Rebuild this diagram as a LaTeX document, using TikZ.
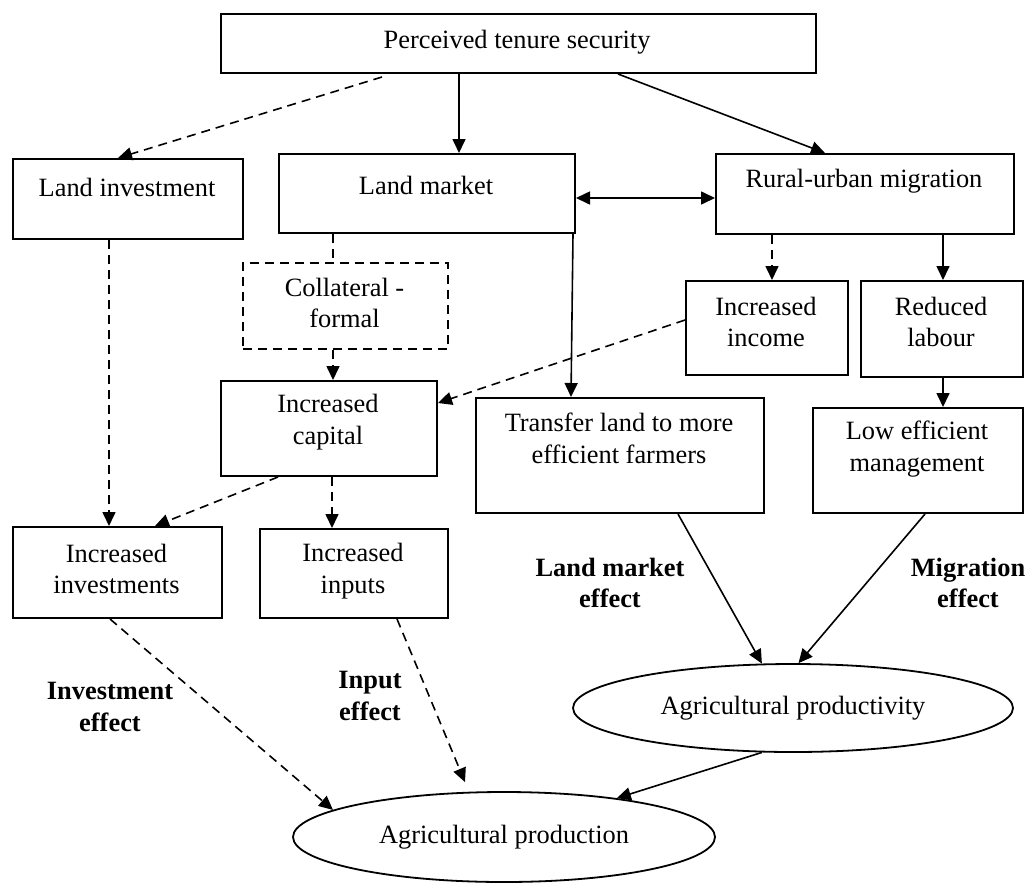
\documentclass[tikz,border=0pt]{standalone}
\usepackage{fontspec}
\setmainfont{Liberation Serif}
\usetikzlibrary{arrows.meta,shapes.geometric}
\begin{document}
\begin{tikzpicture}[x=1pt,y=-1pt,
  box/.style={draw,line width=2pt,rectangle,inner sep=0pt,anchor=north west},
  dbox/.style={box,dash pattern=on 9pt off 6pt},
  ell/.style={draw,ellipse,line width=1.8pt,inner sep=0pt,font=\fontsize{26.4}{31.7}\selectfont},
  txt/.style={inner sep=0pt,align=center,font=\fontsize{26.4}{31.7}\selectfont},
  lbl/.style={inner sep=0pt,align=center,font=\fontsize{26.4}{31.7}\selectfont\bfseries},
  con/.style={line width=1.6pt},
  arr/.style={con,-{Triangle[length=14pt,width=13pt]}},
  darr/.style={arr,dash pattern=on 9pt off 6pt},
  dcon/.style={con,dash pattern=on 9pt off 6pt},
  dbl/.style={con,{Triangle[length=14pt,width=13pt]}-{Triangle[length=14pt,width=13pt]}}
]
\useasboundingbox (0,0) rectangle (1025,884);
% boxes
\node[box,minimum width=595pt,minimum height=59pt] (pts) at (220,13) {};
\node[box,minimum width=230pt,minimum height=80pt] (li) at (12,158) {};
\node[box,minimum width=296pt,minimum height=79pt] (lm) at (278,153) {};
\node[box,minimum width=298pt,minimum height=80pt] (ru) at (715,153) {};
\node[dbox,minimum width=205pt,minimum height=86pt] (col) at (242,262) {};
\node[box,minimum width=162pt,minimum height=94pt] (inc) at (685,280) {};
\node[box,minimum width=162pt,minimum height=96pt] (red) at (860,280) {};
\node[box,minimum width=216pt,minimum height=95pt] (cap) at (220,380) {};
\node[box,minimum width=288pt,minimum height=115pt] (tr) at (475,397) {};
\node[box,minimum width=210pt,minimum height=105pt] (low) at (812,407) {};
\node[box,minimum width=209pt,minimum height=91pt] (iinv) at (12,526) {};
\node[box,minimum width=188pt,minimum height=89pt] (iinp) at (259,528) {};
\node[ell,minimum width=440pt,minimum height=88pt] (aty) at (793,708) {Agricultural productivity};
\node[ell,minimum width=422pt,minimum height=90pt] (apr) at (504,837) {Agricultural production};
% texts
\node[txt] (ptsT) at (517,42) {Perceived tenure security};
\node[txt] (liT) at (127,187) {Land investment};
\node[txt] (lmT) at (426,185) {Land market};
\node[txt] (ruT) at (864,181) {Rural-urban migration};
\node[txt] (colT) at (344.5,303) {Collateral -\\formal};
\node[txt] (incT) at (766,322) {Increased\\income};
\node[txt] (redT) at (941,322) {Reduced\\labour};
\node[txt] (capT) at (328,422) {Increased\\capital};
\node[txt] (trT) at (619,438.5) {Transfer land to more\\efficient farmers};
\node[txt] (lowT) at (917,449) {Low efficient\\management};
\node[txt] (iinvT) at (116.5,569) {Increased\\investments};
\node[txt] (iinpT) at (353,571) {Increased\\inputs};
% effect labels
\node[lbl] (lmE) at (610,583) {Land market\\effect};
\node[lbl] (miE) at (968,583) {Migration\\effect};
\node[lbl] (inE) at (370,696) {Input\\effect};
\node[lbl] (ivE) at (110,707) {Investment\\effect};
% connectors
\draw[darr] ([xshift=162pt,yshift=-3pt]pts.south west) -- ([xshift=106pt]li.north west);
\draw[arr] ([xshift=239pt]pts.south west) -- ([xshift=181pt]lm.north west);
\draw[arr] ([xshift=398pt]pts.south west) -- ([xshift=110pt]ru.north west);
\draw[dbl] ([yshift=-45pt]lm.north east) -- ([yshift=-45pt]ru.north west);
\draw[dcon] ([xshift=55pt]lm.south west) -- ([xshift=91pt]col.north west);
\draw[darr] ([xshift=91pt]col.south west) -- ([xshift=113pt]cap.north west);
\draw[arr] ([xshift=-3pt]lm.south east) -- ([xshift=96pt]tr.north west);
\draw[darr] ([xshift=57pt]ru.south west) -- ([xshift=87pt]inc.north west);
\draw[arr] ([xshift=228pt]ru.south west) -- ([xshift=83pt]red.north west);
\draw[arr] ([xshift=83pt]red.south west) -- ([xshift=131pt]low.north west);
\draw[darr] ([yshift=-40pt]inc.north west) -- ([yshift=-23pt]cap.north east);
\draw[darr] ([xshift=97pt]li.south west) -- ([xshift=97pt]iinv.north west);
\draw[darr] ([xshift=58pt]cap.south west) -- ([xshift=143pt]iinv.north west);
\draw[darr] ([xshift=112pt]cap.south west) -- ([xshift=73pt]iinp.north west);
\draw[arr] ([xshift=203pt]tr.south west) -- (aty.125);
\draw[arr] ([xshift=113pt]low.south west) -- (aty.83);
\draw[arr] (aty.235) -- (apr.19);
\draw[darr] ([xshift=138pt]iinp.south west) -- ([xshift=-39pt,yshift=9pt]apr.north);
\draw[darr] ([xshift=98pt]iinv.south west) -- (apr.171);
\end{tikzpicture}
\end{document}
